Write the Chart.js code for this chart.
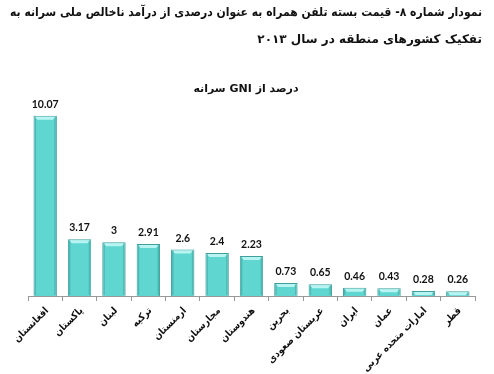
<!DOCTYPE html>
<html>
<head>
<meta charset="utf-8">
<script src="https://cdn.jsdelivr.net/npm/chart.js@4"></script>
<style>
  body { margin: 0; background: #fff; }
  #wrap { width: 494px; height: 374px; }
</style>
</head>
<body>
<div id="wrap"><canvas id="myChart" dir="rtl"></canvas></div>
<script>
let countries = ["افغانستان", "پاکستان", "لبنان", "ترکیه", "ارمنستان", "مجارستان", "هندوستان",
  "بحرین", "عربستان صعودی", "ایران", "عمان", "امارات متحده عربی", "قطر"];
let values = [10.07, 3.17, 3, 2.91, 2.6, 2.4, 2.23, 0.73, 0.65, 0.46, 0.43, 0.28, 0.26];
let titleLines = [
  "نمودار شماره ۸- قیمت بسته تلفن همراه به عنوان درصدی از درآمد ناخالص ملی سرانه به",
  "تفکیک کشورهای منطقه در سال ۲۰۱۳"
];
let subtitleText = "درصد از GNI سرانه";

const fontName = '"DejaVu Sans"';
const labelFont = '"DejaVu Sans Condensed", "DejaVu Sans"';

// bevelled top of each bar + numbers above the bars
const barDecor = {
  id: "barDecor",
  afterDatasetsDraw(chart) {
    const ctx = chart.ctx;
    const meta = chart.getDatasetMeta(0);
    ctx.save();
    meta.data.forEach((bar) => {
      const l = bar.x - bar.width / 2 + 1;
      const r = bar.x + bar.width / 2 - 1;
      const t = bar.y + 1;
      ctx.fillStyle = "rgba(200,250,248,0.85)";
      ctx.beginPath();
      ctx.moveTo(l, t);
      ctx.lineTo(r, t);
      ctx.lineTo(r - 3, t + 3);
      ctx.lineTo(l + 3, t + 3);
      ctx.closePath();
      ctx.fill();
      ctx.fillStyle = "rgba(40,130,126,0.35)";
      ctx.fillRect(l, t, 1.5, bar.base - t - 1);
      ctx.fillRect(r - 1.5, t, 1.5, bar.base - t - 1);
    });

    ctx.font = "bold 10.5px Lato";
    ctx.fillStyle = "#111";
    ctx.textAlign = "center";
    ctx.textBaseline = "bottom";
    meta.data.forEach((bar, i) => {
      ctx.fillText(String(values[i]), bar.x, bar.y - 6);
    });
    ctx.restore();
  }
};

// hidden axis used only to keep the plot away from the edges
const hiddenAxis = (pos, w) => ({
  type: "linear",
  position: pos,
  afterFit(scale) { scale.width = w; },
  grid: { display: false },
  border: { display: false },
  ticks: { display: false }
});

const ctx = document.getElementById("myChart");

new Chart(ctx, {
  type: "bar",
  data: {
    labels: countries,
    datasets: [
      {
        data: values,
        backgroundColor: "#5fd6d0",
        borderColor: "#3f9f9b",
        borderWidth: 1,
        categoryPercentage: 1,
        barPercentage: 0.68
      }
    ]
  },
  options: {
    responsive: true,
    maintainAspectRatio: false,
    animation: false,
    layout: { padding: { left: 10, right: 12, top: 0, bottom: 0 } },
    plugins: {
      legend: { display: false },
      tooltip: { enabled: false },
      title: {
        display: true,
        text: titleLines,
        align: "end",
        color: "#111",
        font: { family: fontName, size: 12, weight: "bold", lineHeight: 2.2 },
        padding: { top: 0, bottom: 30 }
      },
      subtitle: {
        display: true,
        text: subtitleText,
        color: "#111",
        font: { family: fontName, size: 11, weight: "bold", lineHeight: 1.2 },
        padding: { top: 0, bottom: 3 }
      }
    },
    scales: {
      x: {
        afterFit(scale) { scale.height = 78; },
        grid: {
          display: true,
          drawOnChartArea: false,
          color: "#999",
          tickLength: 5
        },
        border: { display: true, color: "#999" },
        ticks: {
          autoSkip: false,
          minRotation: 45,
          maxRotation: 45,
          labelOffset: 2,
          padding: 4,
          color: "#111",
          font: { family: labelFont, size: 10, weight: "bold" }
        }
      },
      y: Object.assign(hiddenAxis("left", 18), { min: 0, max: 11 }),
      y2: hiddenAxis("right", 7)
    }
  },
  plugins: [barDecor]
});
</script>
</body>
</html>
